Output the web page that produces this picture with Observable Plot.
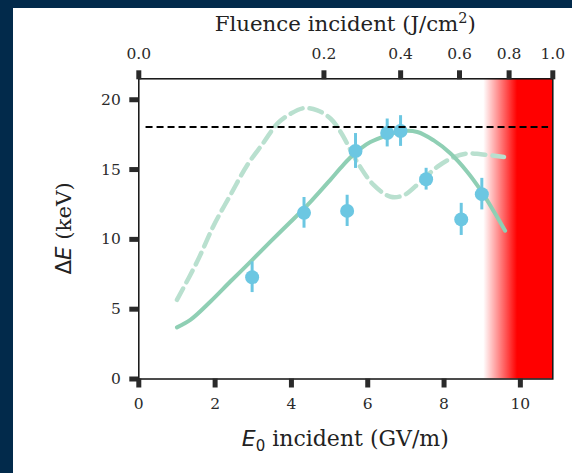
<!DOCTYPE html>
<html><head><meta charset="utf-8">
<script src="https://cdn.jsdelivr.net/npm/d3@7"></script>
<script src="https://cdn.jsdelivr.net/npm/@observablehq/plot@0.6"></script>
<style>
html,body{margin:0;padding:0;background:#022a4b;}
#wrap{position:absolute;left:0;top:0;width:572px;height:473px;background:#022a4b;overflow:hidden}
#panel{position:absolute;left:13px;top:8px;width:559px;height:465px;background:#fff}
#panel svg{display:block}
</style></head><body><div id="wrap"><div id="panel"></div></div>
<script>
// ---- data ----
const E0_MAX = 10.85;            // GV/m at right edge (fluence 1.0 J/cm^2)
const DE_MAX = 21.5;
const xTicks = [0, 2, 4, 6, 8, 10];
const yTicks = [0, 5, 10, 15, 20];
const fluenceTicks = [0.0, 0.2, 0.4, 0.6, 0.8, 1.0];

// measured points
const ptE0 = [2.97, 4.33, 5.46, 5.68, 6.51, 6.86, 7.53, 8.45, 8.99];
const ptDE = [7.29, 11.9, 12.04, 16.33, 17.62, 17.76, 14.31, 11.43, 13.24];
const ptErr = [1.1, 1.1, 1.12, 1.25, 1.0, 1.1, 0.78, 1.15, 1.13];

// simulation (solid)
const solidE0 = [1.0, 1.36, 1.88, 2.40, 2.93, 3.45, 3.98, 4.5, 5.03, 5.29, 5.55, 5.81, 6.07, 6.51, 6.86, 7.3, 7.73, 8.17, 8.61, 8.96, 9.31, 9.6];
const solidDE = [3.70, 4.25, 5.55, 6.98, 8.41, 9.84, 11.26, 12.69, 14.3, 15.12, 15.88, 16.5, 16.97, 17.45, 17.74, 17.69, 17.09, 16.15, 14.83, 13.52, 11.98, 10.62];

// simulation (dashed)
const dashE0 = [1.0, 1.53, 1.97, 2.40, 2.84, 3.28, 3.63, 3.98, 4.33, 4.68, 5.03, 5.29, 5.72, 6.16, 6.6, 6.95, 7.38, 7.82, 8.26, 8.6, 8.96, 9.57];
const dashDE = [5.67, 8.41, 11.03, 13.17, 15.31, 16.97, 18.29, 19.0, 19.4, 19.24, 18.64, 17.69, 15.55, 13.88, 13.05, 13.17, 14.12, 15.19, 15.9, 16.15, 16.1, 15.9];

// threshold line & damage zone
const thresholdDE = 18.05;
const thresholdE0 = [0.19, 10.74];
const damageStart = 9.04;

// ---- tables ----
const points = ptE0.map((x, i) => ({x, y: ptDE[i], e: ptErr[i]}));
const solid = solidE0.map((x, i) => ({x, y: solidDE[i]}));
const dashed = dashE0.map((x, i) => ({x, y: dashDE[i]}));

const BLUE = "#6cc7e2";
const W = 559, H = 465;
const mL = 125.3, mR = 19.7, mT = 70.3, mB = 94.5;
const SERIF = "'DejaVu Serif', serif";
const SANS = "'DejaVu Sans', sans-serif";
const TICKFS = 15.5;

const plot = Plot.plot({
  width: W, height: H,
  marginLeft: mL, marginRight: mR, marginTop: mT, marginBottom: mB,
  x: {domain: [0, E0_MAX]},
  y: {domain: [0, DE_MAX]},
  style: {fontFamily: SERIF, fontSize: TICKFS + "px", color: "#2a2a2a", background: "transparent", overflow: "visible"},
  marks: [
    Plot.rect([{x1: damageStart, x2: E0_MAX}], {x1: "x1", x2: "x2", fill: "url(#redFade)"}),
    Plot.line(dashed, {x: "x", y: "y", stroke: "#b9e0cf", strokeWidth: 4.5, strokeDasharray: "13,7", curve: "catmull-rom"}),
    Plot.line(solid, {x: "x", y: "y", stroke: "#8fcfb4", strokeWidth: 4, curve: "catmull-rom"}),
    Plot.ruleX(points, {x: "x", y1: d => d.y - d.e, y2: d => d.y + d.e, stroke: BLUE, strokeWidth: 3}),
    Plot.dot(points, {x: "x", y: "y", r: 7, fill: BLUE}),
    Plot.ruleY([thresholdDE], {x1: thresholdE0[0], x2: thresholdE0[1], stroke: "#000", strokeWidth: 2, strokeDasharray: "7,4"}),
    Plot.frame({stroke: "#111", strokeWidth: 1.5}),
    Plot.axisY({ticks: yTicks, tickSize: 9, tickPadding: 9, strokeWidth: 5, label: null, fontSize: TICKFS}),
    Plot.axisX({ticks: xTicks, tickSize: 9, tickPadding: 10, strokeWidth: 5, label: null, fontSize: TICKFS}),
    Plot.axisX({anchor: "top", ticks: fluenceTicks.map(f => E0_MAX * Math.sqrt(f)), tickSize: 9, tickPadding: 11,
      strokeWidth: 5, label: null, fontSize: TICKFS, tickFormat: d => ((d / E0_MAX) ** 2).toFixed(1)})
  ]
});

const svg = d3.select(plot);
const defs = svg.insert("defs", ":first-child");
const g = defs.append("linearGradient").attr("id", "redFade").attr("x1", "0").attr("x2", "1").attr("y1", "0").attr("y2", "0");
g.append("stop").attr("offset", "0").attr("stop-color", "#ff0000").attr("stop-opacity", 0);
g.append("stop").attr("offset", "0.49").attr("stop-color", "#ff0000").attr("stop-opacity", 1);
g.append("stop").attr("offset", "1").attr("stop-color", "#ff0000").attr("stop-opacity", 1);

const cx = (mL + (W - mR)) / 2;
const cy = (mT + (H - mB)) / 2;
const TFS = 21.3;

// top title
const t1 = svg.append("text").attr("x", cx).attr("y", 23).attr("text-anchor", "middle")
  .attr("font-family", SERIF).attr("font-size", TFS).attr("fill", "#222");
t1.append("tspan").text("Fluence incident (J/cm");
t1.append("tspan").attr("font-size", 14.5).attr("dy", -8.5).text("2");
t1.append("tspan").attr("dy", 8.5).text(")");

// bottom title
const t2 = svg.append("text").attr("x", cx).attr("y", 438).attr("text-anchor", "middle")
  .attr("font-family", SERIF).attr("font-size", 22).attr("fill", "#222");
t2.append("tspan").attr("font-family", SANS).attr("font-style", "italic").text("E");
t2.append("tspan").attr("font-family", SANS).attr("font-size", 15).attr("dy", 4.5).text("0");
t2.append("tspan").attr("dy", -4.5).text(" incident (GV/m)");

// y title
const t3 = svg.append("text").attr("transform", `translate(57.5,${cy}) rotate(-90)`).attr("text-anchor", "middle")
  .attr("font-family", SERIF).attr("font-size", TFS).attr("fill", "#222");
t3.append("tspan").attr("font-family", SANS).text("Δ");
t3.append("tspan").attr("font-family", SANS).attr("font-style", "italic").text("E");
t3.append("tspan").text(" (keV)");

document.getElementById("panel").appendChild(plot);
</script></body></html>
